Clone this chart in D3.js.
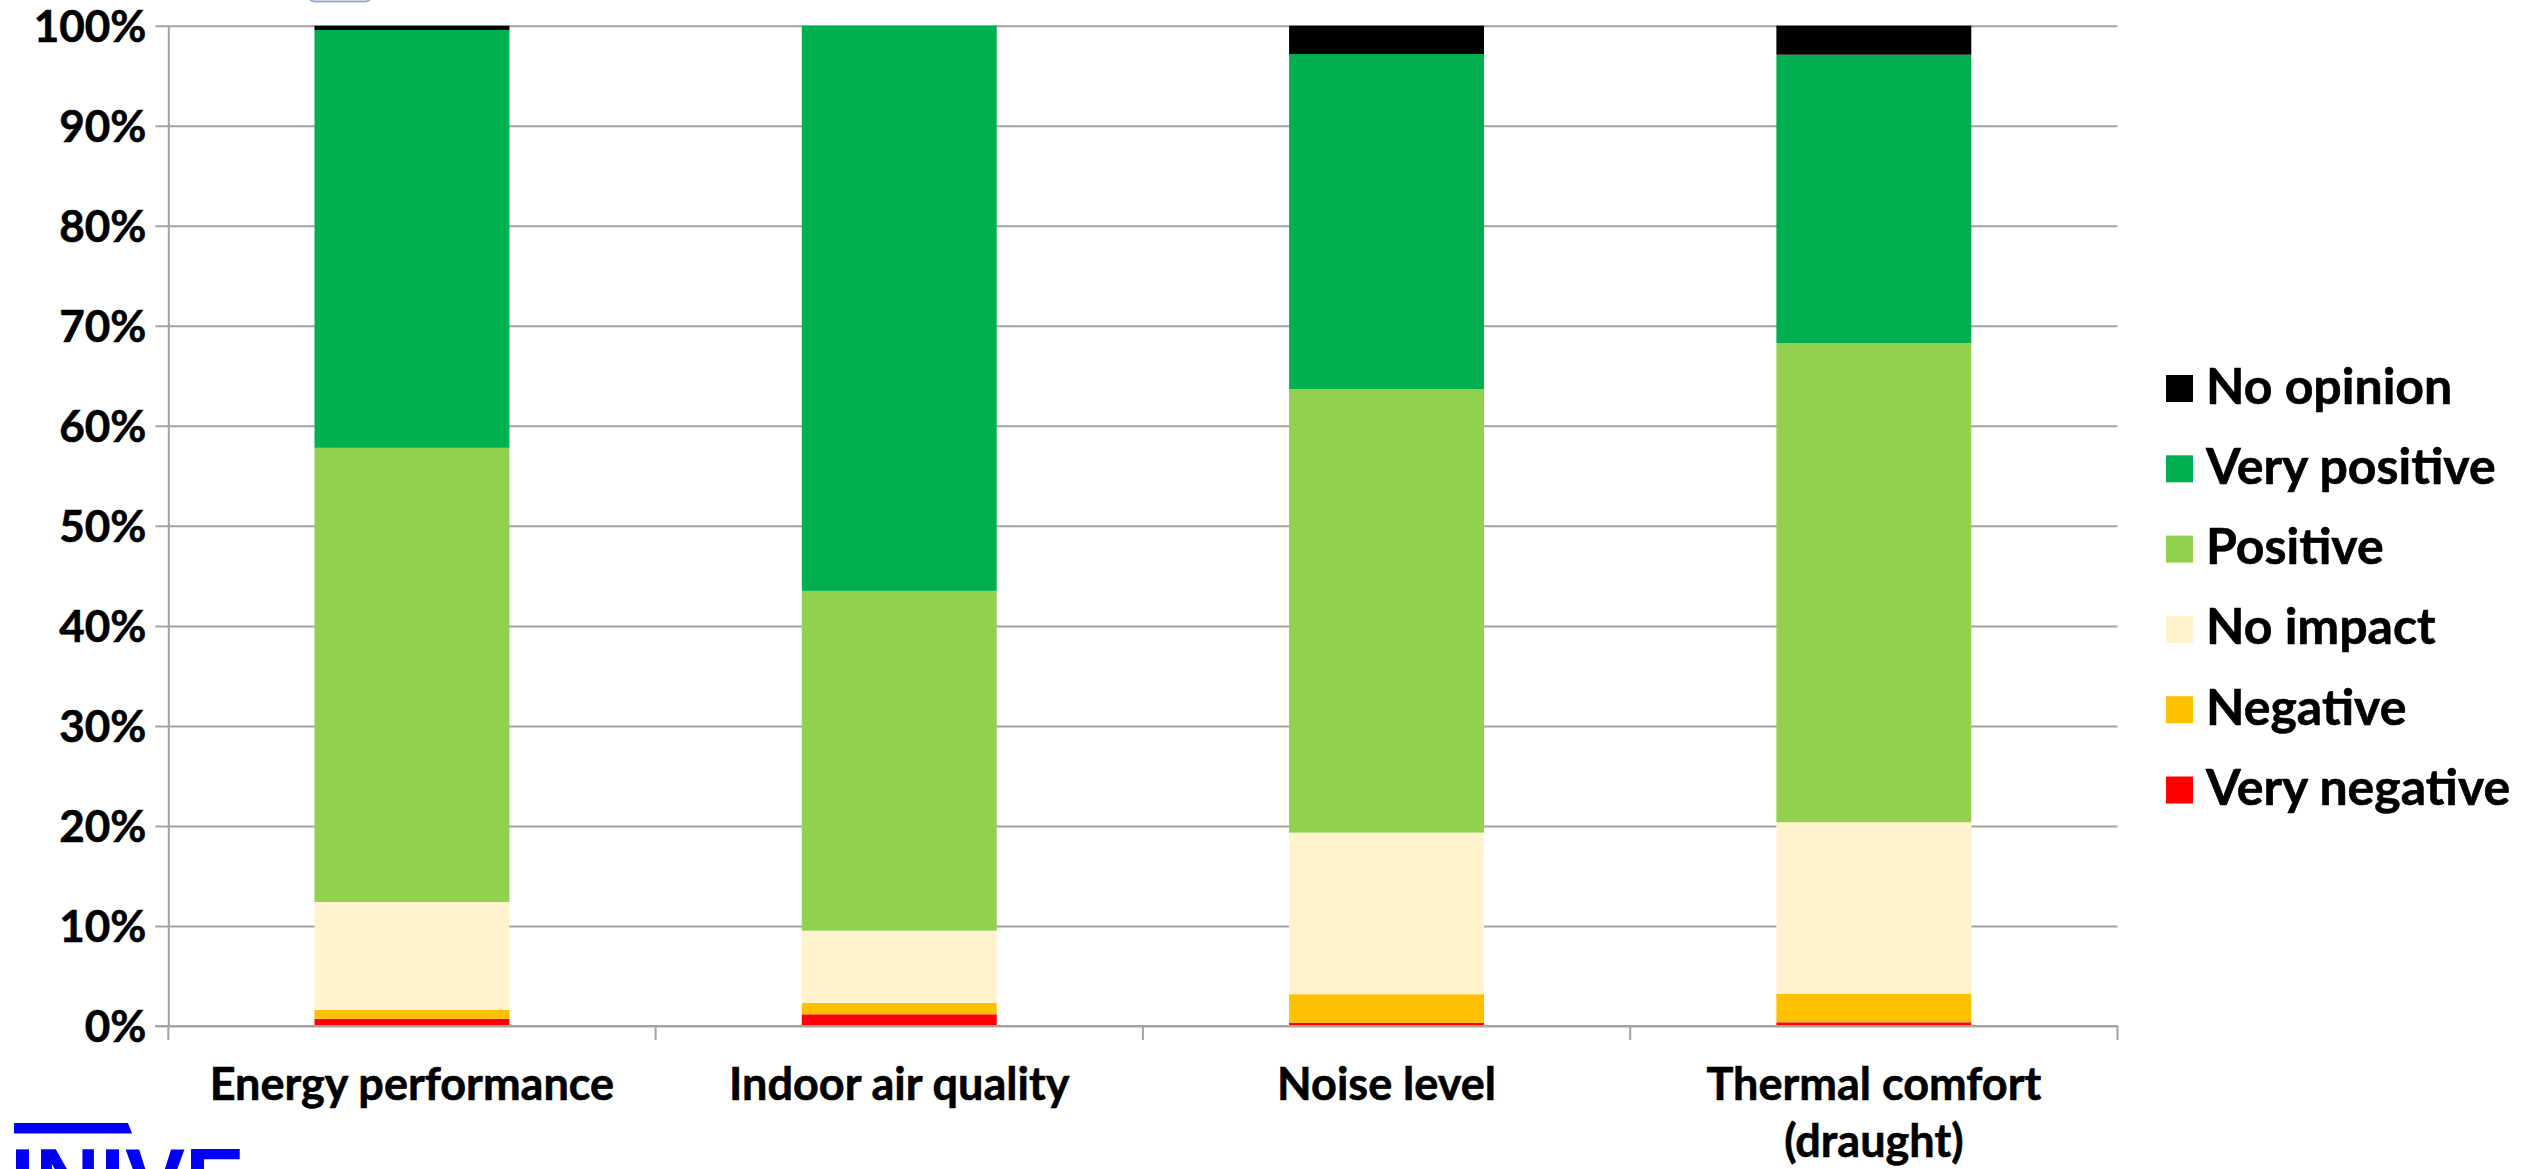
<!DOCTYPE html>
<html>
<head>
<meta charset="utf-8">
<script src="https://cdn.jsdelivr.net/npm/d3@7"></script>
<style>
  html, body { margin: 0; padding: 0; background: #ffffff; }
  svg { display: block; }
  .lbl { font-family: Lato, "Open Sans", sans-serif; font-weight: 700; fill: #000; stroke: #000; stroke-width: 0.6px; }
</style>
</head>
<body>
<svg id="chart" width="2534" height="1169"></svg>
<script>
// Survey responses: perceived impact per topic (percent of answers)
const categories = ["Energy performance", "Indoor air quality", "Noise level", "Thermal comfort\n(draught)"];
const seriesNames = ["Very negative", "Negative", "No impact", "Positive", "Very positive", "No opinion"];
const seriesColors = ["#FF0000", "#FFC000", "#FFF2CC", "#92D050", "#00B050", "#000000"];

const veryNegative = [0.73, 1.17, 0.33, 0.37];
const negative     = [0.87, 1.14, 2.85, 2.84];
const noImpact     = [10.80, 7.22, 16.15, 17.16];
const positive     = [45.40, 33.97, 44.34, 47.90];
const veryPositive = [41.77, 56.50, 33.50, 28.83];
const noOpinion    = [0.43, 0.00, 2.83, 2.90];

const yTicks = [0, 10, 20, 30, 40, 50, 60, 70, 80, 90, 100];

const seriesValues = [veryNegative, negative, noImpact, positive, veryPositive, noOpinion];

// Plot frame
const plotLeft = 168.3, plotRight = 2117.5, plotTop = 25.7, plotBottom = 1026;
const gridColor = "#A3A3A3";

const svg = d3.select("#chart");

const x = d3.scaleBand()
  .domain(categories)
  .range([plotLeft, plotRight])
  .paddingInner(0.6)
  .paddingOuter(0.3);

const y = d3.scaleLinear().domain([0, 100]).range([plotBottom, plotTop]);

const color = d3.scaleOrdinal().domain(seriesNames).range(seriesColors);

const rows = categories.map((c, i) => {
  const r = { category: c };
  seriesNames.forEach((s, k) => { r[s] = seriesValues[k][i]; });
  return r;
});
const stacked = d3.stack().keys(seriesNames)(rows);

// Horizontal gridlines (with the outside tick on the left)
const grid = svg.append("g")
  .attr("transform", `translate(${plotRight},0)`)
  .call(d3.axisLeft(y).tickValues(yTicks).tickSize(plotRight - plotLeft + 13).tickFormat(""));
grid.select(".domain").remove();
grid.selectAll(".tick line").attr("stroke", gridColor).attr("stroke-width", 2);

// Stacked bars
svg.append("g")
  .selectAll("g")
  .data(stacked)
  .join("g")
  .attr("fill", d => color(d.key))
  .selectAll("rect")
  .data(d => d)
  .join("rect")
  .attr("x", d => x(d.data.category))
  .attr("width", x.bandwidth())
  .attr("y", d => y(d[1]))
  .attr("height", d => y(d[0]) - y(d[1]));

// Vertical axis line and percentage labels
const yAxis = svg.append("g")
  .attr("transform", `translate(${plotLeft},0)`)
  .call(d3.axisLeft(y).tickValues(yTicks).tickSize(0).tickPadding(22).tickFormat(d => d + "%"));
yAxis.select(".domain").attr("stroke", gridColor).attr("stroke-width", 2);
yAxis.selectAll(".tick text")
  .attr("class", "lbl")
  .attr("font-size", 44)
  .attr("dy", "0.36em")
  .attr("fill", "#000");

// Horizontal axis line and category boundary ticks
svg.append("line")
  .attr("x1", plotLeft - 13).attr("x2", plotRight)
  .attr("y1", y(0)).attr("y2", y(0))
  .attr("stroke", gridColor).attr("stroke-width", 2);

const boundaries = d3.range(categories.length + 1).map(i => plotLeft + i * x.step());
svg.append("g")
  .selectAll("line")
  .data(boundaries)
  .join("line")
  .attr("x1", d => d).attr("x2", d => d)
  .attr("y1", y(0)).attr("y2", y(0) + 14)
  .attr("stroke", gridColor).attr("stroke-width", 2);

// Category labels (multi-line where needed)
const catLabels = svg.append("g")
  .selectAll("text")
  .data(categories)
  .join("text")
  .attr("class", "lbl")
  .attr("font-size", 45)
  .attr("text-anchor", "middle")
  .attr("x", d => x(d) + x.bandwidth() / 2)
  .attr("y", 1100);
catLabels.selectAll("tspan")
  .data(d => d.split("\n").map(t => ({ t, cx: x(d) + x.bandwidth() / 2 })))
  .join("tspan")
  .attr("x", d => d.cx)
  .attr("dy", (d, i) => i === 0 ? 0 : 57)
  .text(d => d.t);

// Legend, top entry = top of the stack
const legendItems = seriesNames.slice().reverse();
const legend = svg.append("g")
  .selectAll("g")
  .data(legendItems)
  .join("g")
  .attr("transform", (d, i) => `translate(2166,${375 + i * 80.3})`);
legend.append("rect")
  .attr("width", 27).attr("height", 27)
  .attr("fill", d => color(d));
legend.append("text")
  .attr("class", "lbl")
  .attr("font-size", 50)
  .attr("x", 40)
  .attr("y", 28.5)
  .text(d => d);

// Logo at the bottom left, partly cut off by the page edge
const logo = svg.append("g").attr("fill", "#0000F2");
logo.append("path").attr("d", "M14,1123 L128,1123 L132,1133.5 L14,1133.5 Z");
logo.append("text")
  .attr("x", 10)
  .attr("y", 1212)
  .attr("font-family", "'Liberation Sans', Arial, sans-serif")
  .attr("font-weight", 700)
  .attr("font-size", 90)
  .text("INIVE");

// Edge of a shape above the frame
svg.append("rect")
  .attr("x", 308).attr("y", -24).attr("width", 64).attr("height", 25.5)
  .attr("rx", 7)
  .attr("fill", "none")
  .attr("stroke", "#98AED4")
  .attr("stroke-width", 2);
</script>
</body>
</html>
